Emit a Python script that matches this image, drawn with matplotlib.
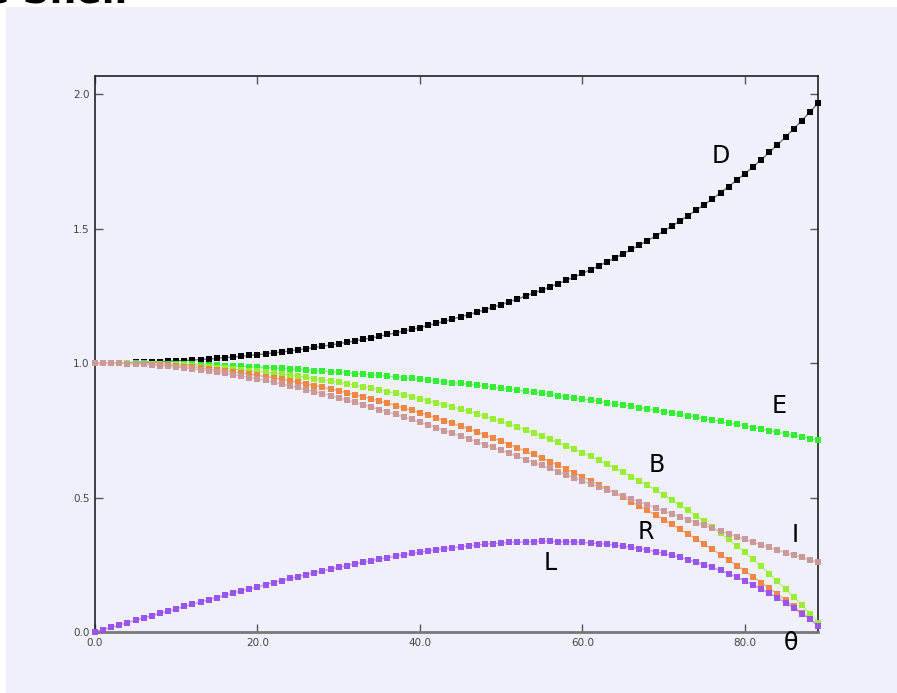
import matplotlib
matplotlib.use('Agg')
import numpy as np
import matplotlib.pyplot as plt
from matplotlib.patches import Rectangle

# angle in degrees, one sample per degree
theta = list(range(90))

D = [1000, 1000, 1000, 1001, 1001, 1002, 1003, 1004, 1005, 1006,
     1008, 1009, 1011, 1013, 1015, 1017, 1020, 1022, 1025, 1028,
     1031, 1034, 1038, 1041, 1045, 1049, 1053, 1058, 1062, 1067,
     1072, 1077, 1082, 1088, 1093, 1099, 1106, 1112, 1119, 1125,
     1132, 1140, 1147, 1155, 1163, 1172, 1180, 1189, 1198, 1208,
     1217, 1228, 1238, 1249, 1260, 1271, 1283, 1295, 1307, 1320,
     1333, 1347, 1361, 1376, 1390, 1406, 1422, 1438, 1455, 1472,
     1490, 1509, 1528, 1548, 1568, 1589, 1610, 1633, 1656, 1680,
     1704, 1729, 1756, 1783, 1811, 1840, 1870, 1901, 1933, 1966]

E = [1000, 1000, 1000, 1000, 999, 999, 999, 998, 998, 997,
     996, 995, 995, 994, 993, 991, 990, 989, 988, 986,
     985, 983, 982, 980, 978, 976, 974, 972, 970, 968,
     966, 964, 961, 959, 956, 954, 951, 948, 946, 943,
     940, 937, 934, 930, 927, 924, 921, 917, 914, 910,
     906, 903, 899, 895, 891, 887, 883, 879, 875, 870,
     866, 862, 857, 853, 848, 843, 839, 834, 829, 824,
     819, 814, 809, 804, 799, 793, 788, 783, 777, 772,
     766, 760, 755, 749, 743, 737, 731, 725, 719, 713]

B = [1000, 1000, 1000, 999, 999, 998, 997, 996, 995, 994,
     992, 991, 989, 987, 985, 983, 980, 978, 975, 972,
     969, 966, 962, 959, 955, 951, 947, 942, 938, 933,
     928, 923, 918, 912, 907, 901, 894, 888, 881, 875,
     868, 860, 853, 845, 837, 828, 820, 811, 802, 792,
     783, 772, 762, 751, 740, 729, 717, 705, 693, 680,
     667, 653, 639, 624, 610, 594, 578, 562, 545, 528,
     510, 491, 472, 452, 432, 411, 390, 367, 344, 320,
     296, 271, 244, 217, 189, 160, 130, 99, 67, 34]

R = [1000, 1000, 1000, 999, 998, 997, 996, 994, 993, 991,
     989, 986, 984, 981, 978, 974, 971, 967, 963, 959,
     954, 949, 945, 939, 934, 928, 922, 916, 910, 903,
     897, 890, 882, 875, 867, 859, 851, 842, 833, 824,
     815, 806, 796, 786, 776, 765, 755, 744, 732, 721,
     709, 697, 685, 672, 660, 647, 633, 620, 606, 592,
     577, 563, 548, 532, 517, 501, 485, 469, 452, 435,
     418, 400, 382, 364, 345, 326, 307, 287, 268, 247,
     227, 206, 184, 163, 141, 118, 95, 72, 49, 24]

I = [1000, 1000, 999, 999, 998, 996, 995, 993, 990, 988,
     985, 982, 978, 975, 971, 966, 962, 957, 952, 946,
     941, 935, 929, 922, 915, 909, 901, 894, 886, 879,
     871, 862, 854, 845, 836, 827, 818, 809, 799, 790,
     780, 770, 760, 749, 739, 729, 718, 707, 696, 686,
     675, 664, 653, 641, 630, 619, 608, 596, 585, 574,
     562, 551, 540, 529, 517, 506, 495, 484, 472, 461,
     450, 439, 428, 418, 407, 396, 386, 375, 365, 355,
     344, 334, 324, 315, 305, 295, 286, 277, 268, 259]

L = [0, 9, 17, 26, 35, 44, 52, 61, 69, 78,
     86, 95, 103, 112, 120, 128, 136, 145, 153, 160,
     168, 176, 184, 191, 199, 206, 213, 220, 227, 234,
     240, 247, 253, 259, 265, 271, 276, 282, 287, 292,
     297, 301, 306, 310, 313, 317, 320, 323, 326, 329,
     331, 333, 334, 335, 336, 337, 337, 336, 336, 335,
     333, 331, 329, 326, 323, 319, 315, 310, 305, 299,
     292, 285, 278, 269, 260, 250, 240, 229, 217, 204,
     190, 176, 160, 144, 127, 108, 89, 68, 47, 24]

bg = '#f0f0fc'

# name, values, marker colour, line colour, label position
series = [
    ('D', D, '#000000', '#777777', (77.0, 1.77)),
    ('E', E, '#33ee33', '#88f088', (84.2, 0.84)),
    ('B', B, '#99ee33', '#bbee88', (69.2, 0.62)),
    ('R', R, '#ee8844', '#f0b088', (67.8, 0.372)),
    ('I', I, '#cc9999', '#ddbbbb', (86.2, 0.36)),
    ('L', L, '#9955ee', '#bb99f0', (56.1, 0.257)),
]

fig = plt.figure(figsize=(8.97, 6.93), dpi=100, facecolor='white')
fig.patches.append(Rectangle((6 / 897, 0), 1, 1 - 7 / 693, transform=fig.transFigure,
                             facecolor=bg, edgecolor='none', zorder=-1))
fig.text(127 / 897, 1 - 3 / 693, 'Single Shell', ha='right', va='baseline',
         fontsize=27, fontweight='bold', color='black')

ax = fig.add_axes([95 / 897, 61 / 693, 723 / 897, 556 / 693])
ax.set_zorder(1)
ax.set_facecolor(bg)

for name, vals, mc, lc, pos in series:
    y = np.array(vals) / 1000.0
    ax.plot(theta, y, '-', color=lc, linewidth=1.0, zorder=2)
    ax.plot(theta, y, 's', color=mc, markersize=4.4, markeredgewidth=0, zorder=3,
            clip_on=False)
    ax.text(pos[0], pos[1], name, fontsize=17, ha='center', va='center', color='black')

ax.text(85.7, -0.04, 'θ', fontsize=17, ha='center', va='center', color='black',
        clip_on=False)

ax.set_xlim(0, 89)
ax.set_ylim(0, 2.067)
ax.set_xticks([0, 20, 40, 60, 80])
ax.set_xticklabels(['0.0', '20.0', '40.0', '60.0', '80.0'])
ax.set_yticks([0, 0.5, 1.0, 1.5, 2.0])
ax.set_yticklabels(['0.0', '0.5', '1.0', '1.5', '2.0'])
ax.tick_params(direction='in', length=6, width=1, colors='#555555', labelsize=7.5,
               top=True, right=True, labelcolor='#444444', pad=4)

for side in ['left', 'right', 'top']:
    ax.spines[side].set_color('#222222')
    ax.spines[side].set_linewidth(1.2)
ax.spines['bottom'].set_color('#777777')
ax.spines['bottom'].set_linewidth(2)

fig.savefig('out.png', dpi=100, facecolor='white')
